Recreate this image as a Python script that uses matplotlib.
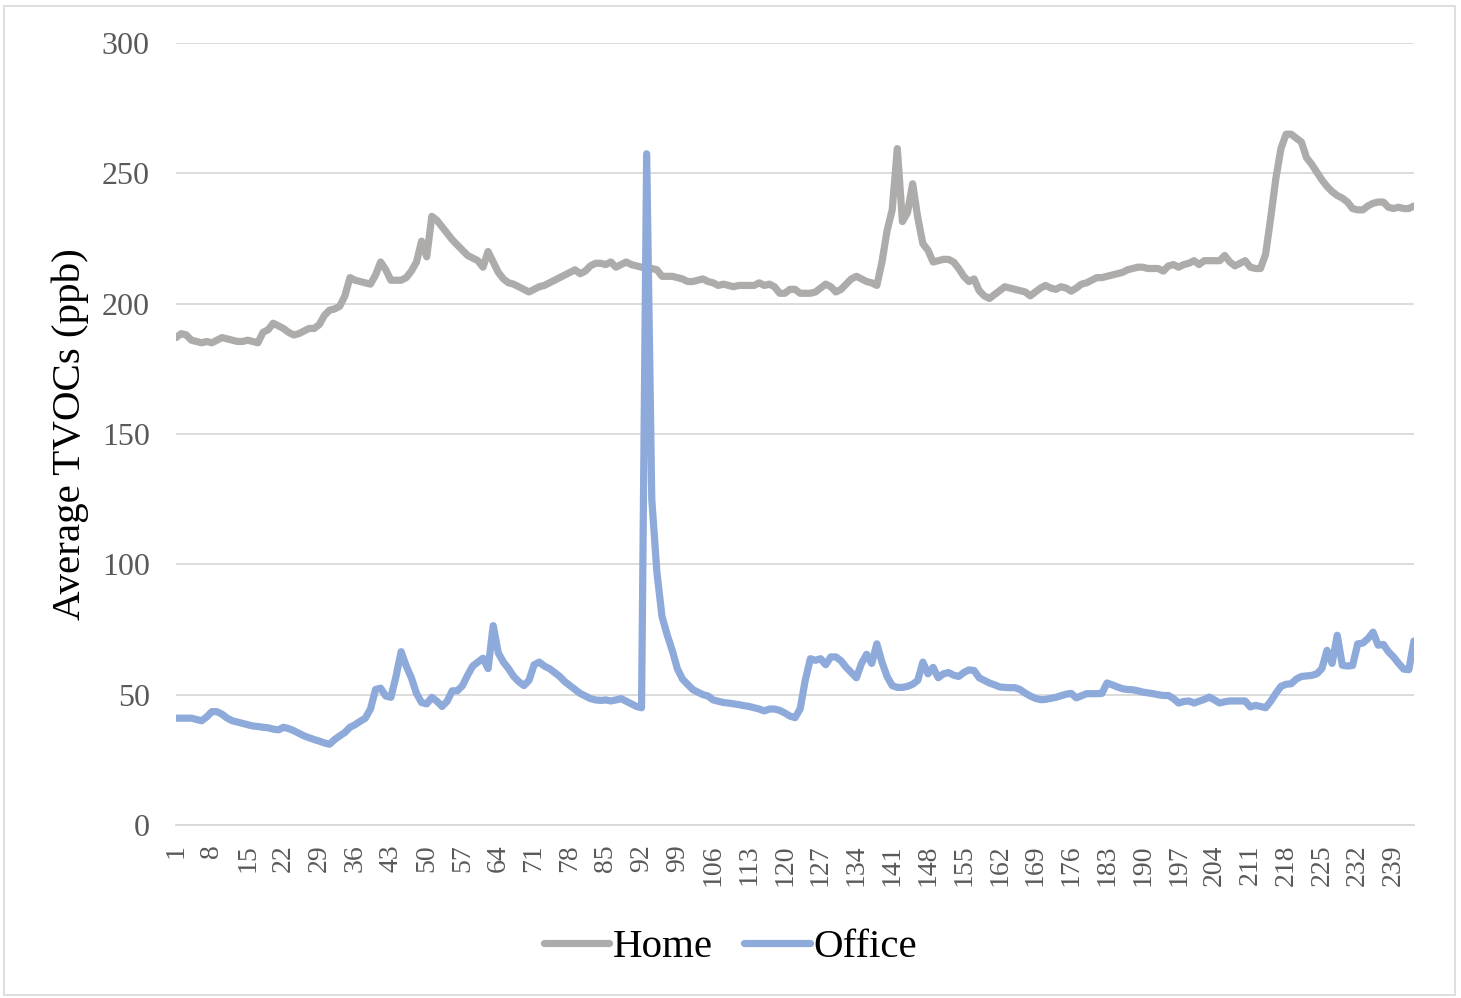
import numpy as np
import matplotlib.pyplot as plt
from matplotlib.patches import Rectangle

# Promedio de TVOCs (ppb) por dia
home = [
    187, 188.5, 188, 186, 185.5, 185, 185.5, 185, 186, 187,
    186.5, 186, 185.5, 185.5, 186, 185.5, 185, 189, 190, 192.5,
    191.5, 190.5, 189, 188, 188.5, 189.5, 190.5, 190.5, 192, 195.5,
    197.5, 198, 199, 203, 210, 209, 208.5, 208, 207.5, 211,
    216, 213, 209, 209, 209, 210, 212.5, 216, 224, 218,
    233.5, 232, 229.5, 227, 224.5, 222.5, 220.5, 218.5, 217.5, 216.5,
    214, 220, 216, 212, 209.5, 208, 207.5, 206.5, 205.5, 204.5,
    205.5, 206.5, 207, 208, 209, 210, 211, 212, 213, 211.5,
    212.5, 214.5, 215.5, 215.5, 215, 216, 214, 215, 216, 215,
    214.5, 214, 213.5, 213.5, 213, 210.5, 210.5, 210.5, 210, 209.5,
    208.5, 208.5, 209, 209.5, 208.5, 208, 207, 207.5, 207, 206.5,
    207, 207, 207, 207, 208, 207, 207.5, 206.5, 204, 204,
    205.5, 205.5, 204, 204, 204, 204.5, 206, 207.5, 206.5, 204.5,
    205.5, 207.5, 209.5, 210.5, 209.5, 208.5, 208, 207, 216, 228,
    236, 259.5, 231.5, 235, 246, 233, 223, 220.5, 216, 216.5,
    217, 217, 216, 213.5, 210.5, 208.5, 209.5, 205, 203, 202,
    203.5, 205, 206.5, 206, 205.5, 205, 204.5, 203, 204.5, 206,
    207, 206, 205.5, 206.5, 206, 204.8, 206, 207.5, 208, 209,
    210, 210, 210.5, 211, 211.5, 212, 213, 213.5, 214, 214,
    213.5, 213.5, 213.5, 212.5, 214.5, 215, 214, 215, 215.5, 216.5,
    215, 216.5, 216.5, 216.5, 216.5, 218.5, 216, 214.5, 215.5, 216.5,
    214, 213.5, 213.5, 219, 233, 248, 259.5, 265, 265, 263.5,
    262, 256, 253.5, 250.5, 247.5, 245, 243, 241.5, 240.5, 239,
    236.5, 236, 236, 237.5, 238.5, 239, 239, 237, 236.5, 237,
    236.5, 236.5, 237.5,
]

office = [
    41, 41, 41, 41, 40.5, 40, 41.5, 43.5, 43.5, 42.5,
    41, 40, 39.5, 39, 38.5, 38, 37.8, 37.5, 37.3, 36.8,
    36.5, 37.5, 37, 36.2, 35.2, 34.2, 33.5, 32.8, 32.2, 31.5,
    31, 32.8, 34.2, 35.5, 37.5, 38.5, 39.8, 41, 44.5, 52,
    52.5, 49.5, 49, 57, 66.5, 61, 56.5, 50.5, 47, 46.5,
    49, 47.5, 45.5, 47.5, 51.5, 51.5, 53.5, 57.5, 61, 62.5,
    64, 60, 76.5, 66, 62.5, 60, 57, 55, 53.5, 55.5,
    61.5, 62.5, 61, 60, 58.5, 57, 55, 53.5, 52, 50.5,
    49.5, 48.5, 48, 47.8, 48, 47.6, 48, 48.5, 47.5, 46.5,
    45.5, 45, 257.5, 125, 97, 80, 73, 67, 60, 56,
    54, 52, 51, 50, 49.5, 48, 47.5, 47, 46.8, 46.5,
    46.2, 45.8, 45.5, 45, 44.5, 43.8, 44.5, 44.5, 44, 43,
    41.8, 41.2, 44.5, 55.5, 63.8, 63.2, 63.8, 61.5, 64.5, 64.5,
    63, 60.5, 58.5, 56.5, 62, 65.5, 62, 69.5, 62.5, 57,
    53.5, 52.8, 52.8, 53.2, 54, 55.5, 62.5, 58, 60.5, 56.5,
    58, 58.5, 57.5, 57, 58.5, 59.5, 59.3, 56.5, 55.5, 54.5,
    53.8, 53, 52.8, 52.7, 52.7, 52, 50.6, 49.5, 48.6, 48.1,
    48.2, 48.6, 49, 49.6, 50.2, 50.5, 48.8, 49.6, 50.4, 50.4,
    50.4, 50.5, 54.5, 53.8, 53, 52.3, 52, 51.9, 51.5, 51,
    50.7, 50.4, 50, 49.7, 49.7, 48.5, 46.8, 47.4, 47.6, 46.8,
    47.5, 48.2, 49.1, 48, 46.8, 47.3, 47.6, 47.6, 47.6, 47.6,
    45.3, 45.9, 45.5, 45, 47.5, 50.5, 53.2, 54, 54.2, 56,
    57, 57.2, 57.4, 58, 60, 67, 62, 72.8, 61.3, 61,
    61.2, 69.5, 69.8, 71.5, 74, 69, 69.3, 66.5, 64.5, 62,
    59.8, 59.6, 70.6,
]

dias = np.arange(1, len(home) + 1)
ticks_x = list(range(1, len(home) + 1, 7))
ticks_y = [0, 50, 100, 150, 200, 250, 300]


def graficar(dias, home, office):
    plt.rcParams['font.family'] = ['Liberation Serif', 'DejaVu Serif']
    fig = plt.figure(figsize=(14.61, 9.98), dpi=100)
    ax = fig.add_axes([0.1205, 0.1733, 0.8473, 0.7836])

    ax.plot(dias, home, color='#AEABAB', lw=5.2, label='Home',
            solid_joinstyle='round', solid_capstyle='round')
    ax.plot(dias, office, color='#8EAADB', lw=5.2, label='Office',
            solid_joinstyle='round', solid_capstyle='round')

    ax.set_xlim(1, len(dias))
    ax.set_ylim(0, 300)
    ax.set_yticks(ticks_y)
    ax.set_xticks(ticks_x)
    ax.set_xticklabels([str(t) for t in ticks_x], rotation=90)
    ax.tick_params(axis='y', length=0, pad=19, labelsize=23, labelcolor='#595959')
    ax.tick_params(axis='x', length=0, pad=14, labelsize=20, labelcolor='#595959')
    ax.grid(axis='y', color='#D9D9D9', lw=1.3)
    ax.set_axisbelow(True)
    for s in ['top', 'right', 'left']:
        ax.spines[s].set_visible(False)
    ax.spines['bottom'].set_color('#D9D9D9')
    ax.spines['bottom'].set_linewidth(1.3)

    ax.set_ylabel('Average TVOCs (ppb)', fontsize=29.5, labelpad=9)

    fig.legend(loc='center', bbox_to_anchor=(0.5, 0.051), ncol=2, frameon=False,
               fontsize=29.5, handlelength=1.6, handletextpad=0.1, columnspacing=0.75)

    # borde del area del grafico
    fig.patches.append(Rectangle((0.003, 0.003), 0.993, 0.991, transform=fig.transFigure,
                                 fill=False, edgecolor='#D9D9D9', lw=1.2))
    fig.savefig('out.png', dpi=100)


def main():
    graficar(dias, home, office)


if __name__ == "__main__":
    main()
